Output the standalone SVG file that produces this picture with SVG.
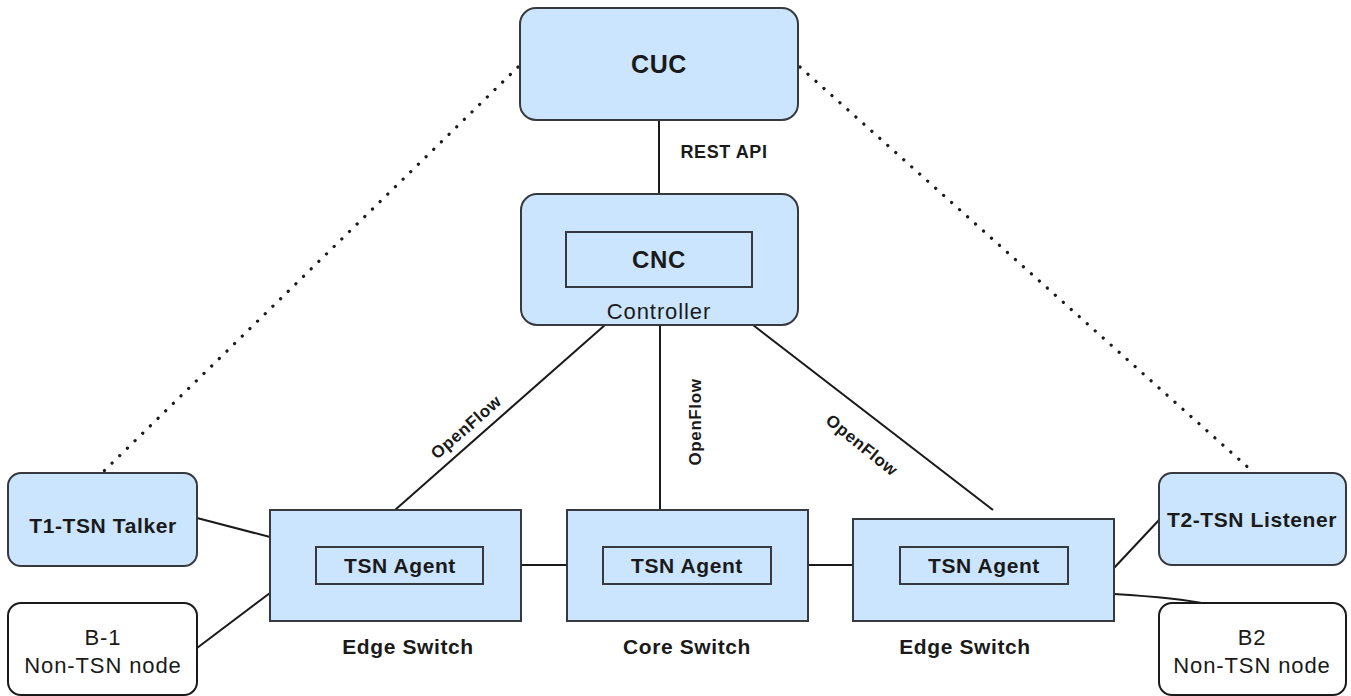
<svg xmlns="http://www.w3.org/2000/svg" width="1351" height="696" viewBox="0 0 1351 696">
<style>
.box{fill:#cce5ff;stroke:#36393d;stroke-width:2}
.wbox{fill:#ffffff;stroke:#1a1a1a;stroke-width:2}
.inner{fill:none;stroke:#36393d;stroke-width:2}
.ln{stroke:#1a1a1a;stroke-width:2;fill:none}
.dot{stroke:#1a1a1a;stroke-width:3.2;fill:none;stroke-linecap:round;stroke-dasharray:0.1 10.6}
text{font-family:"Liberation Sans",Arial,sans-serif;fill:#1a1a1a;text-anchor:middle;letter-spacing:0.6px}
.b{font-weight:bold;font-size:21px}
.r{font-size:22px;letter-spacing:0.9px}
.of{font-weight:bold;font-size:17px}
</style>
<rect width="1351" height="696" fill="#ffffff"/>
<g id="connectors">
<path class="dot" d="M518 67 L104 471"/>
<path class="dot" d="M800 67 L1252 471"/>
<path class="ln" d="M659 120 L659 194"/>
<path class="ln" d="M605 325 L395 510"/>
<path class="ln" d="M660 325 L660 510"/>
<path class="ln" d="M753 325 L993 510"/>
<path class="ln" d="M197 518 L270 537"/>
<path class="ln" d="M197 648 L270 593"/>
<path class="ln" d="M521 565 L567 565"/>
<path class="ln" d="M808 565 L853 565"/>
<path class="ln" d="M1114 568 L1159 520"/>
<path class="ln" d="M1114 594 Q1180 598 1206 604"/>
<text class="b" x="724" y="158" style="font-size:18px">REST API</text>
<text class="of" transform="translate(466,427) rotate(-41)" y="6">OpenFlow</text>
<text class="of" transform="translate(695,422) rotate(-90)" y="6">OpenFlow</text>
<text class="of" transform="translate(862,445) rotate(39)" y="6">OpenFlow</text>
</g>
<g id="cuc">
<rect class="box" x="520" y="8" width="278" height="112" rx="16"/>
<text class="b" x="659" y="73" style="font-size:25px">CUC</text>
</g>
<g id="controller">
<rect class="box" x="521" y="194" width="277" height="131" rx="16"/>
<rect class="inner" x="566" y="232" width="186" height="55"/>
<text class="b" x="659" y="268" style="font-size:24px">CNC</text>
<text class="r" x="659" y="319">Controller</text>
</g>
<g id="t1">
<rect class="box" x="8" y="473" width="189" height="93" rx="13"/>
<text class="b" x="103" y="533">T1-TSN Talker</text>
</g>
<g id="b1">
<rect class="wbox" x="8" y="603" width="189" height="92" rx="13"/>
<text class="r" x="103" y="645">B-1</text>
<text class="r" x="103" y="673">Non-TSN node</text>
</g>
<g id="edge1">
<rect class="box" x="270" y="510" width="251" height="111"/>
<rect class="inner" x="316" y="547" width="167" height="37"/>
<text class="b" x="400" y="573">TSN Agent</text>
<text class="b" x="408" y="654">Edge Switch</text>
</g>
<g id="core">
<rect class="box" x="567" y="510" width="241" height="111"/>
<rect class="inner" x="603" y="547" width="168" height="37"/>
<text class="b" x="687" y="573">TSN Agent</text>
<text class="b" x="687" y="654">Core Switch</text>
</g>
<g id="edge2">
<rect class="box" x="853" y="519" width="261" height="102"/>
<rect class="inner" x="900" y="547" width="168" height="37"/>
<text class="b" x="984" y="573">TSN Agent</text>
<text class="b" x="965" y="654">Edge Switch</text>
</g>
<g id="t2">
<rect class="box" x="1159" y="473" width="187" height="92" rx="13"/>
<text class="b" x="1252" y="527">T2-TSN Listener</text>
</g>
<g id="b2">
<rect class="wbox" x="1159" y="603" width="187" height="92" rx="13"/>
<text class="r" x="1252" y="645">B2</text>
<text class="r" x="1252" y="673">Non-TSN node</text>
</g>
</svg>
